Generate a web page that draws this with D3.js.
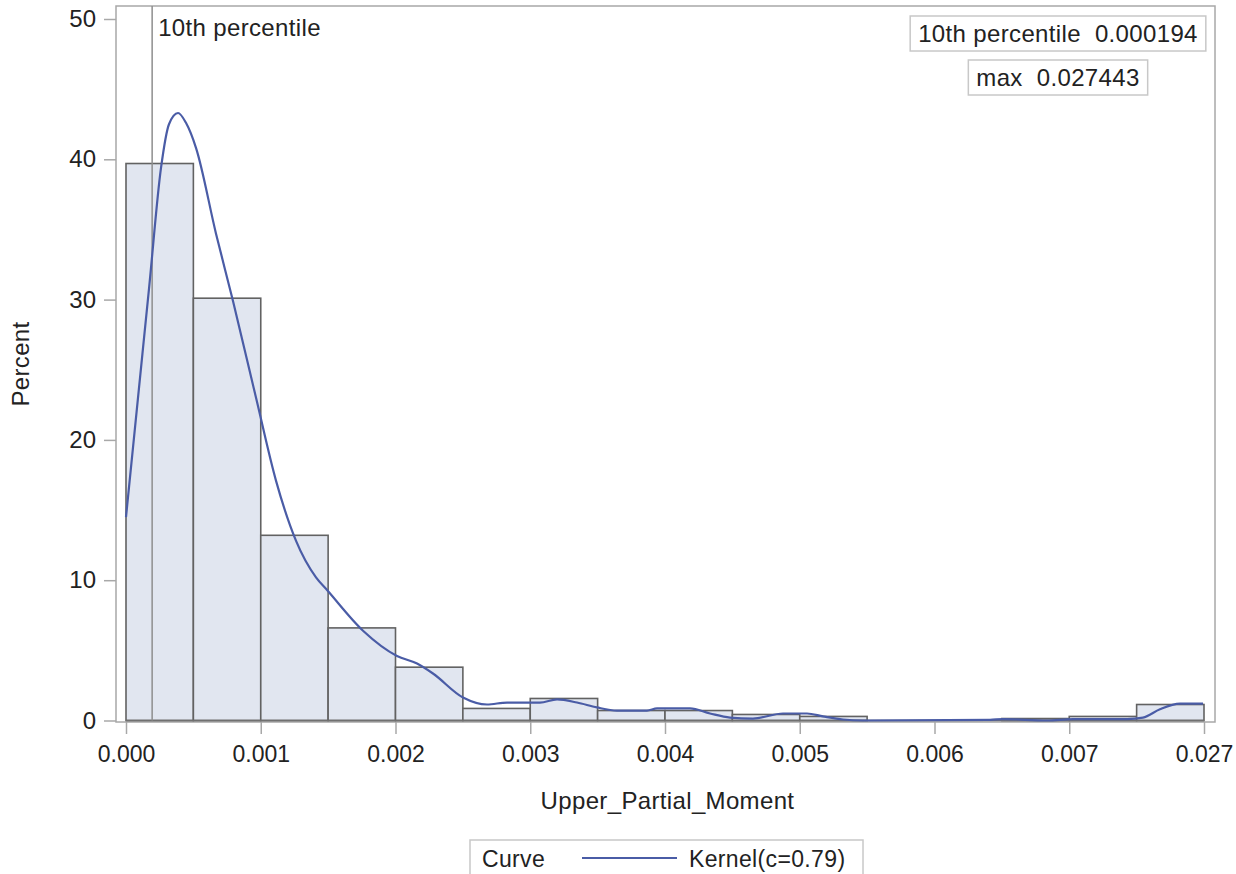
<!DOCTYPE html>
<html>
<head>
<meta charset="utf-8">
<script src="https://cdn.jsdelivr.net/npm/d3@7"></script>
<style>
  html, body { margin: 0; padding: 0; background: #fff; }
  svg { display: block; font-family: "Liberation Sans", Arial, sans-serif; }
  text { white-space: pre; }
</style>
</head>
<body>
<svg id="chart" width="1236" height="874"></svg>
<script>
// ---- data ----
const binEdges = [0, 0.0005, 0.001, 0.0015, 0.002, 0.0025, 0.003, 0.0035, 0.004,
                  0.0045, 0.005, 0.0055, 0.006, 0.0065, 0.007, 0.0075, 0.008];
const binPercents = [39.7, 30.1, 13.2, 6.6, 3.8, 0.86, 1.57, 0.71, 0.71,
                     0.43, 0.29, 0, 0, 0.14, 0.29, 1.14];
const kernelX = [0, 0.000089, 0.000171, 0.00026, 0.000319, 0.000386, 0.000445, 0.00052,
                 0.000668, 0.000794, 0.000965, 0.001113, 0.001262, 0.00141, 0.001492,
                 0.001759, 0.002011, 0.00216, 0.002278, 0.002501, 0.002679, 0.002828,
                 0.003072, 0.003199, 0.003347, 0.003495, 0.003644, 0.003866, 0.003941,
                 0.004186, 0.004334, 0.004482, 0.004653, 0.004876, 0.005054, 0.005173,
                 0.005321, 0.005469, 0.006412, 0.006508, 0.006835, 0.007028, 0.007429,
                 0.007547, 0.007673, 0.007822, 0.007993];
const kernelY = [14.5, 23.0, 30.8, 39.4, 42.5, 43.3, 42.6, 40.8,
                 34.7, 29.9, 23.0, 17.1, 12.8, 10.2, 9.3,
                 6.4, 4.6, 4.06, 3.35, 1.64, 1.14, 1.28,
                 1.28, 1.5, 1.28, 0.93, 0.71, 0.71, 0.86,
                 0.86, 0.5, 0.21, 0.14, 0.5, 0.5, 0.29,
                 0.07, 0.0, 0.05, 0.1, 0.0, 0.1, 0.1,
                 0.2, 0.8, 1.2, 1.2];
const xTickValues = [0, 0.001, 0.002, 0.003, 0.004, 0.005, 0.006, 0.007, 0.008];
const xTickLabels = ["0.000", "0.001", "0.002", "0.003", "0.004", "0.005", "0.006", "0.007", "0.027"];
const yTickValues = [0, 10, 20, 30, 40, 50];
const refValue = 0.000194;
const refLabel = "10th percentile";
const insetLines = ["10th percentile  0.000194", "max  0.027443"];
const xTitle = "Upper_Partial_Moment";
const yTitle = "Percent";
const legendTitle = "Curve";
const legendLabel = "Kernel(c=0.79)";

// ---- layout ----
const svg = d3.select("#chart");
const frame = { left: 116, right: 1215, top: 6, bottom: 722 };
const x = d3.scaleLinear().domain([0, 0.008]).range([126, 1204]);
const y = d3.scaleLinear().domain([0, 50]).range([720.5, 19]);

const textColor = "#222";
const frameColor = "#a8a8a8";
const ls = "0.35px";

// frame
svg.append("rect")
  .attr("x", frame.left).attr("y", frame.top)
  .attr("width", frame.right - frame.left).attr("height", frame.bottom - frame.top)
  .attr("fill", "none").attr("stroke", frameColor).attr("stroke-width", 1.5);

// bars
const bars = binPercents.map((p, i) => ({ x0: binEdges[i], x1: binEdges[i + 1], p }))
  .filter(d => d.p > 0);
svg.append("g").selectAll("rect").data(bars).join("rect")
  .attr("x", d => x(d.x0)).attr("y", d => y(d.p))
  .attr("width", d => x(d.x1) - x(d.x0)).attr("height", d => y(0) - y(d.p))
  .attr("fill", "#e1e6f0").attr("stroke", "#626262").attr("stroke-width", 1.6);

// baseline
svg.append("line")
  .attr("x1", x(0)).attr("x2", x(0.008)).attr("y1", y(0)).attr("y2", y(0))
  .attr("stroke", "#707070").attr("stroke-width", 1.5);

// reference line
svg.append("line")
  .attr("x1", x(refValue)).attr("x2", x(refValue))
  .attr("y1", frame.top).attr("y2", y(0))
  .attr("stroke", "#8e8e8e").attr("stroke-width", 1.5);
svg.append("text")
  .attr("x", x(refValue) + 6).attr("y", 36).attr("letter-spacing", ls)
  .attr("font-size", 24).attr("fill", textColor).text(refLabel);

// kernel curve
const kernel = kernelX.map((v, i) => [v, kernelY[i]]);
svg.append("path").datum(kernel)
  .attr("d", d3.line().x(d => x(d[0])).y(d => y(d[1])).curve(d3.curveMonotoneX))
  .attr("fill", "none").attr("stroke", "#4a5ca6").attr("stroke-width", 2.2);

// x axis
const xAxis = d3.axisBottom(x).tickValues(xTickValues)
  .tickFormat((d, i) => xTickLabels[i]).tickSizeOuter(0).tickSize(12).tickPadding(12);
const gx = svg.append("g").attr("transform", `translate(0,${frame.bottom})`).call(xAxis);
gx.select(".domain").remove();
gx.selectAll(".tick line").attr("stroke", frameColor).attr("stroke-width", 1.5);
gx.selectAll(".tick text").attr("font-size", 23).attr("fill", textColor)
  .attr("font-family", "Liberation Sans, Arial, sans-serif");

// y axis
const yAxis = d3.axisLeft(y).tickValues(yTickValues).tickSizeOuter(0).tickSize(12).tickPadding(8);
const gy = svg.append("g").attr("transform", `translate(${frame.left},0)`).call(yAxis);
gy.select(".domain").remove();
gy.selectAll(".tick line").attr("stroke", frameColor).attr("stroke-width", 1.5);
gy.selectAll(".tick text").attr("font-size", 24).attr("fill", textColor)
  .attr("font-family", "Liberation Sans, Arial, sans-serif");

// axis titles
svg.append("text").attr("x", (frame.left + frame.right) / 2 + 2).attr("y", 809)
  .attr("text-anchor", "middle").attr("font-size", 24).attr("letter-spacing", ls)
  .attr("fill", textColor).text(xTitle);
svg.append("text").attr("transform", `translate(29,${(frame.top + frame.bottom) / 2}) rotate(-90)`)
  .attr("text-anchor", "middle").attr("font-size", 24).attr("letter-spacing", ls)
  .attr("fill", textColor).text(yTitle);

// inset boxes
const insetCenter = 1058;
const insetBaselines = [42, 86];
insetLines.forEach((t, i) => {
  const txt = svg.append("text").attr("x", insetCenter).attr("y", insetBaselines[i])
    .attr("text-anchor", "middle").attr("font-size", 24).attr("letter-spacing", ls)
    .attr("fill", textColor).text(t);
  const bb = txt.node().getBBox();
  svg.insert("rect", "text")
    .attr("x", bb.x - 8).attr("y", insetBaselines[i] - 26)
    .attr("width", bb.width + 16).attr("height", 35)
    .attr("fill", "#fff").attr("stroke", "#c8c8c8").attr("stroke-width", 1.5);
});

// legend
const lg = svg.append("g");
lg.append("rect").attr("x", 470).attr("y", 840).attr("width", 393).attr("height", 40)
  .attr("fill", "#fff").attr("stroke", "#c8c8c8").attr("stroke-width", 1.5);
lg.append("text").attr("x", 482).attr("y", 867).attr("font-size", 23).attr("letter-spacing", ls)
  .attr("fill", textColor).text(legendTitle);
lg.append("line").attr("x1", 582).attr("x2", 677).attr("y1", 858).attr("y2", 858)
  .attr("stroke", "#4a5ca6").attr("stroke-width", 2.2);
lg.append("text").attr("x", 689).attr("y", 867).attr("font-size", 23).attr("letter-spacing", ls)
  .attr("fill", textColor).text(legendLabel);
</script>
</body>
</html>
